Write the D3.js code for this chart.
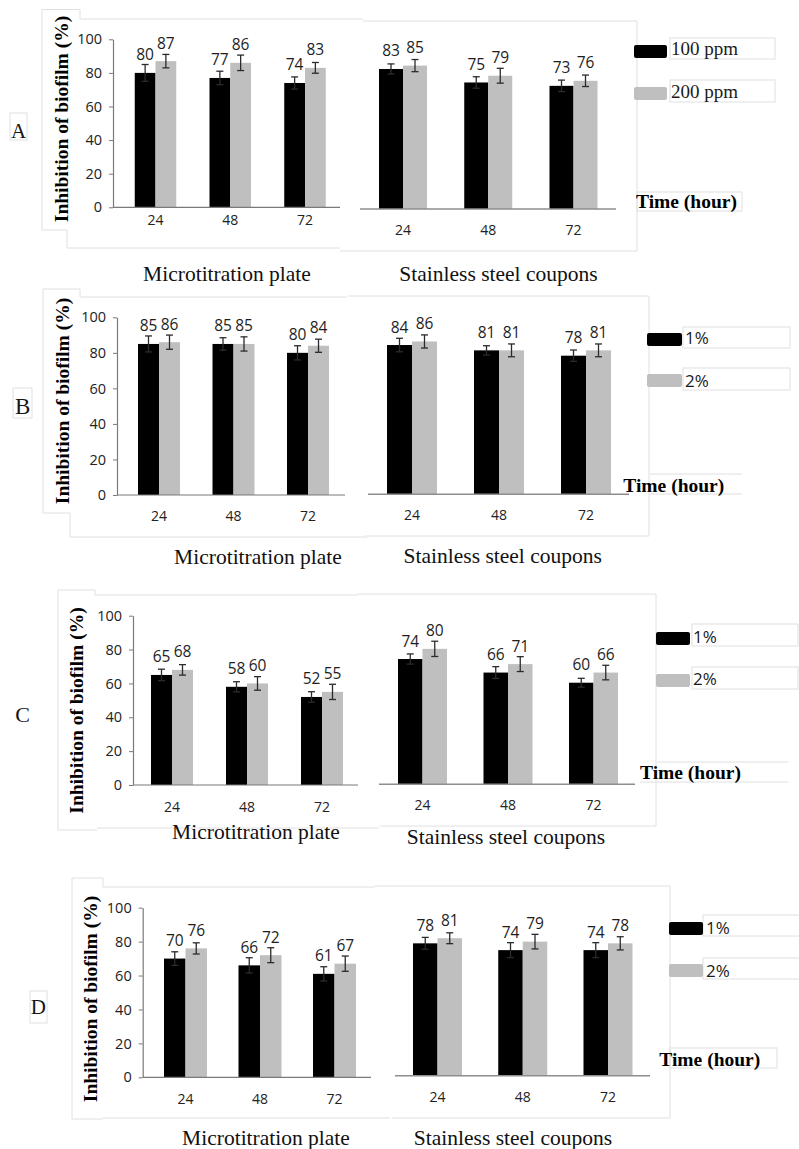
<!DOCTYPE html>
<html>
<head>
<meta charset="utf-8">
<script src="https://cdn.jsdelivr.net/npm/d3@7"></script>
<style>
  html, body { margin: 0; padding: 0; background: #fff; }
  svg { display: block; }
</style>
</head>
<body>
<svg id="fig" width="799" height="1149"></svg>
<script>
// ---------------- data ----------------
const hours = ["24", "48", "72"];
const yTicks = [0, 20, 40, 60, 80, 100];
const panelLetters = ["A", "B", "C", "D"];
const surfaceNames = ["Microtitration plate", "Stainless steel coupons"];
const timeTitle = "Time (hour)";
const yTitle = "Inhibition of biofilm (%)";
const legendA = ["100 ppm", "200 ppm"];
const legendBCD = ["1%", "2%"];

// Panel A  (100 ppm / 200 ppm)
const aPlateLow = [80, 77, 74],   aPlateLowSd = [5, 4, 3.6];
const aPlateHigh = [87, 86, 83],  aPlateHighSd = [4, 4.6, 3.2];
const aCouponLow = [83, 75, 73],  aCouponLowSd = [3, 3.4, 3.4];
const aCouponHigh = [85, 79, 76], aCouponHighSd = [3.6, 4.4, 3.4];

// Panel B  (1% / 2%)
const bPlateLow = [85, 85, 80],   bPlateLowSd = [4.5, 3.5, 4];
const bPlateHigh = [86, 85, 84],  bPlateHighSd = [4, 4, 3.7];
const bCouponLow = [84, 81, 78],  bCouponLowSd = [3.8, 2.6, 3.2];
const bCouponHigh = [86, 81, 81], bCouponHighSd = [3.7, 3.6, 3.6];

// Panel C  (1% / 2%)
const cPlateLow = [65, 58, 52],   cPlateLowSd = [3.4, 3, 3.1];
const cPlateHigh = [68, 60, 55],  cPlateHighSd = [3.1, 4, 4.5];
const cCouponLow = [74, 66, 60],  cCouponLowSd = [3, 3.5, 2.6];
const cCouponHigh = [80, 71, 66], cCouponHighSd = [4.5, 4.4, 4.3];

// Panel D  (1% / 2%)
const dPlateLow = [70, 66, 61],   dPlateLowSd = [4, 4.5, 4.2];
const dPlateHigh = [76, 72, 67],  dPlateHighSd = [3.3, 4.4, 4.5];
const dCouponLow = [78, 74, 74],  dCouponLowSd = [3.5, 4.4, 4.4];
const dCouponHigh = [81, 79, 78], dCouponHighSd = [3.2, 4.3, 3.9];

// ---------------- layout ----------------
const SERIF = "'Liberation Serif', 'Times New Roman', serif";
const SANS = "'Open Sans', 'Noto Sans', sans-serif";
const BLACK_BAR = "#000000";
const GREY_BAR = "#bfbfbf";
const FRAME = "#e0e0e0";

const charts = [
  { low: aPlateLow,  lowSd: aPlateLowSd,  high: aPlateHigh,  highSd: aPlateHighSd,
    c1: 155.5, c3: 305,   gw: 41.5, y0: 207.3, y100: 39.3,  ax0: 113,   ax1: 340, yAxis: true,  catDy: 18 },
  { low: aCouponLow, lowSd: aCouponLowSd, high: aCouponHigh, highSd: aCouponHighSd,
    c1: 403,   c3: 573.5, gw: 48,   y0: 209,   y100: 40.3,  ax0: 360,   ax1: 616, yAxis: false, catDy: 26 },
  { low: bPlateLow,  lowSd: bPlateLowSd,  high: bPlateHigh,  highSd: bPlateHighSd,
    c1: 159,   c3: 308,   gw: 42,   y0: 495,   y100: 317.3, ax0: 117,   ax1: 345, yAxis: true,  catDy: 26 },
  { low: bCouponLow, lowSd: bCouponLowSd, high: bCouponHigh, highSd: bCouponHighSd,
    c1: 412,   c3: 586,   gw: 50,   y0: 494.3, y100: 316.6, ax0: 368,   ax1: 629, yAxis: false, catDy: 26 },
  { low: cPlateLow,  lowSd: cPlateLowSd,  high: cPlateHigh,  highSd: cPlateHighSd,
    c1: 172,   c3: 322,   gw: 42,   y0: 785,   y100: 615.7, ax0: 133,   ax1: 358, yAxis: true,  catDy: 26.5 },
  { low: cCouponLow, lowSd: cCouponLowSd, high: cCouponHigh, highSd: cCouponHighSd,
    c1: 422.5, c3: 593.5, gw: 49,   y0: 784.3, y100: 615,   ax0: 379,   ax1: 635, yAxis: false, catDy: 26 },
  { low: dPlateLow,  lowSd: dPlateLowSd,  high: dPlateHigh,  highSd: dPlateHighSd,
    c1: 185.5, c3: 334.5, gw: 43,   y0: 1077.3, y100: 907.7, ax0: 142.7, ax1: 371, yAxis: true,  catDy: 27 },
  { low: dCouponLow, lowSd: dCouponLowSd, high: dCouponHigh, highSd: dCouponHighSd,
    c1: 437.5, c3: 608,   gw: 49,   y0: 1075.7, y100: 906,   ax0: 395,   ax1: 650, yAxis: false, catDy: 26.5 }
];

// per-panel decorations: titles, legend, letters, frames
const panels = [
  { letter: { x: 18.5, y: 138.3, size: 21 }, letterBox: [10, 113, 17, 27],
    yTitle: [61, 119],
    surf: [[227, 281], [498.5, 281]],
    legend: { names: legendA, font: SERIF, size: 19, swX: 634, swW: 33, swY: [45, 87], txX: 671, txY: [55.3, 97.7] },
    time: [636, 208.3],
    frames: ["M42,9.5H80V19H363", "M42,9.5V230H67V248H340", "M363,21H637V251H340"],
    boxes: [[670, 38, 105, 21], [670, 80, 105, 22], [637, 192, 105, 19]] },
  { letter: { x: 22.7, y: 414.3, size: 23 }, letterBox: [13, 388, 19, 30],
    yTitle: [62.5, 401],
    surf: [[258, 563.5], [502.7, 562.7]],
    legend: { names: legendBCD, font: SANS, size: 17, swX: 647, swW: 35, swY: [333, 374], txX: 685, txY: [344, 386.7] },
    time: [623.3, 491.7],
    frames: ["M43,289H80V297H347", "M43,289V513H70V537H367", "M348,296H649V536H365", "M650,474H742", "M650,494H742"],
    boxes: [[683, 327, 107, 21], [683, 368, 107, 22]] },
  { letter: { x: 22.7, y: 721.7, size: 22 }, letterBox: null,
    yTitle: [76, 710.5],
    surf: [[256, 839], [506, 844]],
    legend: { names: legendBCD, font: SANS, size: 17, swX: 656, swW: 34, swY: [632, 674], txX: 693, txY: [643.3, 685] },
    time: [640, 779.3],
    frames: ["M58,590H95V595H358", "M58,590V830H97", "M97,828H379", "M358,594H656V826H380", "M657,762H788", "M640,782H788"],
    boxes: [[692, 624, 106, 22], [692, 667, 106, 22]] },
  { letter: { x: 38.3, y: 1014, size: 21 }, letterBox: [30, 991, 17, 32],
    yTitle: [90, 999],
    surf: [[266, 1145], [513, 1145]],
    legend: { names: legendBCD, font: SANS, size: 17, swX: 669, swW: 34, swY: [922, 964], txX: 706, txY: [934, 976.7] },
    time: [659.3, 1065.7],
    frames: ["M72,878H103V887H375", "M72,878V1119H103", "M103,1118H390", "M375,886H670V1118H392"],
    boxes: [[703, 915, 97, 21], [703, 958, 97, 21], [670, 1048, 107, 20]] }
];

// ---------------- drawing ----------------
const svg = d3.select("#fig");

// light frames first, so everything else sits on top
panels.forEach(p => {
  const g = svg.append("g").attr("class", "frames")
    .attr("fill", "none").attr("stroke", FRAME).attr("stroke-width", 1);
  p.frames.forEach(d => g.append("path").attr("d", d));
  p.boxes.forEach(b => g.append("rect").attr("x", b[0]).attr("y", b[1]).attr("width", b[2]).attr("height", b[3]));
  if (p.letterBox) {
    const b = p.letterBox;
    g.append("rect").attr("x", b[0]).attr("y", b[1]).attr("width", b[2]).attr("height", b[3]);
  }
});

function drawChart(cfg) {
  const g = svg.append("g").attr("class", "chart");
  const y = d3.scaleLinear().domain([0, 100]).range([cfg.y0, cfg.y100]);
  const step = (cfg.c3 - cfg.c1) / 2;
  const pad = 1 - cfg.gw / step;
  const x = d3.scaleBand().domain(hours)
    .range([cfg.c1 - step / 2, cfg.c3 + step / 2])
    .paddingInner(pad).paddingOuter(pad / 2);
  const xs = d3.scaleBand().domain(["low", "high"]).range([0, x.bandwidth()]);
  const fill = d3.scaleOrdinal().domain(["low", "high"]).range([BLACK_BAR, GREY_BAR]);

  const rows = hours.map((h, i) => ({
    h,
    vals: [
      { k: "low",  v: cfg.low[i],  sd: cfg.lowSd[i] },
      { k: "high", v: cfg.high[i], sd: cfg.highSd[i] }
    ]
  }));

  const groups = g.selectAll("g.grp").data(rows).join("g")
    .attr("class", "grp")
    .attr("transform", d => `translate(${x(d.h)},0)`);

  // bars
  groups.selectAll("rect").data(d => d.vals).join("rect")
    .attr("x", d => xs(d.k))
    .attr("width", xs.bandwidth())
    .attr("y", d => y(d.v))
    .attr("height", d => y(0) - y(d.v))
    .attr("fill", d => fill(d.k));

  // error bars
  const eb = groups.selectAll("g.err").data(d => d.vals).join("g")
    .attr("class", "err")
    .attr("stroke", "#2b2b2b").attr("stroke-width", 1.3);
  eb.append("line")
    .attr("x1", d => xs(d.k) + xs.bandwidth() / 2).attr("x2", d => xs(d.k) + xs.bandwidth() / 2)
    .attr("y1", d => y(d.v + d.sd)).attr("y2", d => y(d.v - d.sd));
  [1, -1].forEach(s => {
    eb.append("line")
      .attr("x1", d => xs(d.k) + xs.bandwidth() / 2 - 3.5).attr("x2", d => xs(d.k) + xs.bandwidth() / 2 + 3.5)
      .attr("y1", d => y(d.v + s * d.sd)).attr("y2", d => y(d.v + s * d.sd));
  });

  // value labels
  groups.selectAll("text.val").data(d => d.vals).join("text")
    .attr("class", "val")
    .attr("x", d => xs(d.k) + xs.bandwidth() / 2)
    .attr("y", d => y(d.v) - 12.5)
    .attr("text-anchor", "middle")
    .attr("font-family", SANS).attr("font-size", 15.5).attr("fill", "#1e1e1e")
    .text(d => d.v);

  // category axis (hours)
  const xa = g.append("g").attr("transform", `translate(0,${y(0)})`)
    .call(d3.axisBottom(x).tickSize(0));
  xa.select(".domain").remove();
  xa.selectAll("text")
    .attr("y", cfg.catDy).attr("dy", null)
    .attr("font-family", SANS).attr("font-size", 14).attr("fill", "#222");

  g.append("line")
    .attr("x1", cfg.ax0).attr("x2", cfg.ax1)
    .attr("y1", y(0)).attr("y2", y(0))
    .attr("stroke", cfg.yAxis ? "#7a7a7a" : "#8e8e8e")
    .attr("stroke-width", cfg.yAxis ? 1.2 : 1.6);

  if (cfg.yAxis) {
    const ya = g.append("g").attr("transform", `translate(${cfg.ax0},0)`)
      .call(d3.axisLeft(y).tickValues(yTicks).tickSize(4).tickSizeOuter(0).tickPadding(7));
    ya.select(".domain").attr("stroke", "#7a7a7a").attr("stroke-width", 1.2);
    ya.selectAll(".tick line").attr("stroke", "#7a7a7a");
    ya.selectAll("text")
      .attr("font-family", SANS).attr("font-size", 14.5).attr("fill", "#222");
  }
}

charts.forEach(drawChart);

// titles, legends, panel letters
panels.forEach((p, i) => {
  const g = svg.append("g").attr("class", "labels");

  g.append("text")
    .attr("x", p.letter.x).attr("y", p.letter.y)
    .attr("text-anchor", "middle")
    .attr("font-family", SERIF).attr("font-size", p.letter.size).attr("fill", "#151515")
    .text(panelLetters[i]);

  g.append("text")
    .attr("transform", `translate(${p.yTitle[0]},${p.yTitle[1]}) rotate(-90)`)
    .attr("text-anchor", "middle").attr("dominant-baseline", "central")
    .attr("font-family", SERIF).attr("font-weight", "bold").attr("font-size", 19.5).attr("fill", "#000")
    .text(yTitle);

  p.surf.forEach((s, k) => {
    g.append("text")
      .attr("x", s[0]).attr("y", s[1])
      .attr("text-anchor", "middle")
      .attr("font-family", SERIF).attr("font-size", 21.5).attr("fill", "#111")
      .text(surfaceNames[k]);
  });

  const L = p.legend;
  [BLACK_BAR, GREY_BAR].forEach((c, k) => {
    g.append("rect")
      .attr("x", L.swX).attr("y", L.swY[k])
      .attr("width", L.swW).attr("height", 13).attr("rx", 2)
      .attr("fill", c);
    g.append("text")
      .attr("x", L.txX).attr("y", L.txY[k])
      .attr("font-family", L.font).attr("font-size", L.size).attr("fill", "#1a1a1a")
      .text(L.names[k]);
  });

  g.append("text")
    .attr("x", p.time[0]).attr("y", p.time[1])
    .attr("font-family", SERIF).attr("font-weight", "bold").attr("font-size", 19.5).attr("fill", "#000")
    .text(timeTitle);
});
</script>
</body>
</html>
